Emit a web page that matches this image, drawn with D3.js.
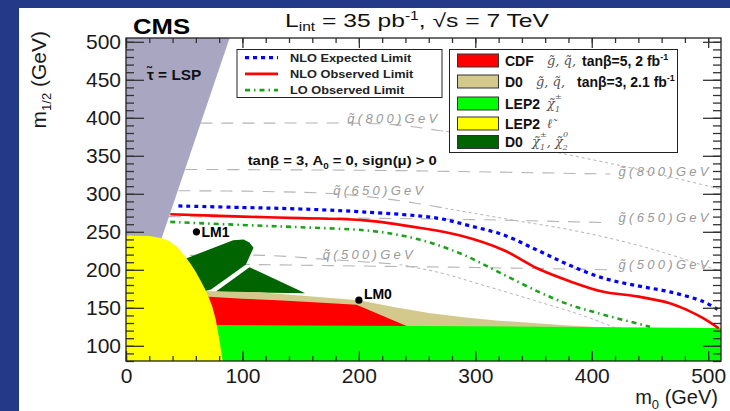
<!DOCTYPE html>
<html>
<head>
<meta charset="utf-8">
<script src="https://cdn.jsdelivr.net/npm/d3@7"></script>
<style>
  body { margin: 0; background: #fff; }
  svg { display: block; font-family: "Liberation Sans", Arial, sans-serif; }
</style>
</head>
<body>
<svg id="chart" width="730" height="411"></svg>
<script>
// all values, m0 and m1/2 in GeV
const xTicks = [0, 100, 200, 300, 400, 500];
const yTicks = [100, 150, 200, 250, 300, 350, 400, 450, 500];

// limit curves
const nloExpected = [[45,284],[100,282],[150,280],[205,276],[267,268],[295,258],[324,246],[353,226],[381,206],[410,189],[439,179],[467,171],[496,158],[508,148]];
const nloObserved = [[38,273],[100,270],[150,268],[205,265],[253,255],[287,245],[324,226],[353,202],[381,185],[410,171],[439,165],[467,156],[482,147],[496,136],[509,123]];
const loObserved = [[38,263],[100,259],[150,256],[205,252],[234,246],[263,235],[291,219],[320,197],[353,172],[381,154],[410,141],[450,125]];

// excluded regions
const lspRegion = [[0,505],[89,505],[28.5,232],[0,232]];
const lep2Slepton = [[0,245],[20,244.5],[30,242],[37,238],[44,230],[50,219],[55,209],[60,197],[64,186],[68,174],[71,164],[74,152],[77,135],[79,118],[81,100],[83,80],[0,80]];
const lep2Chargino = [[75,127.5],[250,126],[511,123.5],[511,80],[75,80]];
const cdfRegion = [[68,165],[100,162],[130,160],[165,157],[198,154],[241,126],[241,110],[68,110]];
const d0Region = [[68,172],[115,170.5],[160,165],[200,160],[230,151],[260,143],[290,137.5],[320,133],[350,130],[377,127],[400,125],[425,124],[425,110],[68,110]];
const d0ChiUpper = [[50,214],[92,239],[101,240],[106,236],[109.5,229],[103,207],[73,174],[68,172]];
const d0ChiLower = [[106,203.5],[154,169],[77,171]];

// iso-mass contours
const squark800 = [[64,393],[120,393],[190,393],[230,391],[270,383],[304,376],[340,364],[381,351],[440,332],[511,306]];
const squark650 = [[45,304],[120,303],[180,300],[230,292],[274,281],[330,266],[390,250],[450,228],[511,198]];
const squark500 = [[55,219],[120,219],[170,214],[200,211],[235,207],[270,196],[304,181],[350,160],[390,141],[420,124]];
const gluino800 = [[51,332],[200,331],[300,329],[416,326]];
const gluino650 = [[37,270],[200,268],[300,266],[416,262]];
const gluino500 = [[60,208],[200,205],[300,203],[416,200]];
const squarkLabels = [["q\u0303(800)GeV", 190, 393], ["q\u0303(650)GeV", 178, 299], ["q\u0303(500)GeV", 169, 214]];
const gluinoLabels = [["g\u0303(800)GeV", 423, 323.5], ["g\u0303(650)GeV", 423, 263], ["g\u0303(500)GeV", 423, 201]];

// benchmark points
const benchmarks = [["LM1", 60.5, 250], ["LM0", 200, 160]];

const svg = d3.select("#chart");
const W = 730, H = 411;

// the reference text is a little wider than the fonts here, stretch it
function stretch(sel, factor) {
    sel.each(function () {
        let len = this.getComputedTextLength();
        d3.select(this).attr("textLength", len * factor).attr("lengthAdjust", "spacingAndGlyphs");
    });
    return sel;
}

// slide background
svg.append("rect").attr("width", W).attr("height", H).attr("fill", "#243a88");
svg.append("rect").attr("x", 19).attr("y", 8).attr("width", W - 19).attr("height", H - 8).attr("fill", "#fff");

const x = d3.scaleLinear().domain([0, 511]).range([126, 721]);
const y = d3.scaleLinear().domain([80, 505]).range([361, 38]);

svg.append("clipPath").attr("id", "plotArea").append("rect")
    .attr("x", x(0)).attr("y", y(505)).attr("width", x(511) - x(0)).attr("height", y(80) - y(505));
const plot = svg.append("g").attr("clip-path", "url(#plotArea)");

const poly = d3.line().x(d => x(d[0])).y(d => y(d[1]));
const smooth = d3.line().x(d => x(d[0])).y(d => y(d[1])).curve(d3.curveCatmullRom.alpha(0.5));

function region(pts, fill) {
    plot.append("path").attr("d", poly(pts) + "Z").attr("fill", fill);
}

region(lspRegion, "#a9a6c2");

// iso-mass lines: flat part long-dashed, sloping part finely dashed
function contour(pts, splitAt) {
    let flat = pts.filter(d => d[0] <= splitAt);
    let slope = pts.filter(d => d[0] >= splitAt);
    plot.append("path").attr("d", smooth(flat)).attr("fill", "none")
        .attr("stroke", "#b4b4b4").attr("stroke-width", 1.1).attr("stroke-dasharray", "12 9");
    if (slope.length > 1) {
        plot.append("path").attr("d", smooth(slope)).attr("fill", "none")
            .attr("stroke", "#b4b4b4").attr("stroke-width", 1).attr("stroke-dasharray", "3 3");
    }
}
contour(squark800, 270);
contour(squark650, 274);
contour(squark500, 235);
contour(gluino800, 999);
contour(gluino650, 999);
contour(gluino500, 999);

function isoLabel(d) {
    plot.append("text").attr("x", x(d[1])).attr("y", y(d[2]))
        .attr("font-size", 13).attr("font-style", "italic").attr("fill", "#9a9a9a")
        .attr("textLength", 90).attr("lengthAdjust", "spacing")
        .text(d[0]);
}
squarkLabels.forEach(isoLabel);
gluinoLabels.forEach(isoLabel);

region(d0ChiUpper, "#006400");
region(d0ChiLower, "#006400");
region(d0Region, "#d4c98c");
region(cdfRegion, "#ff0000");
region(lep2Chargino, "#00ff00");
region(lep2Slepton, "#ffff00");

// limit curves
plot.append("path").attr("d", smooth(loObserved)).attr("fill", "none")
    .attr("stroke", "#1aa31a").attr("stroke-width", 2.6).attr("stroke-dasharray", "5 4 1.5 4");
plot.append("path").attr("d", smooth(nloObserved)).attr("fill", "none")
    .attr("stroke", "#ff0000").attr("stroke-width", 2.6);
plot.append("path").attr("d", smooth(nloExpected)).attr("fill", "none")
    .attr("stroke", "#0000ff").attr("stroke-width", 3.2).attr("stroke-dasharray", "4 4");

// benchmark points
benchmarks.forEach((d, i) => {
    plot.append("circle").attr("cx", x(d[1])).attr("cy", y(d[2])).attr("r", 3.6).attr("fill", "#000");
    plot.append("text").attr("x", x(d[1]) + 5).attr("y", y(d[2]) + (i === 0 ? 5 : -1))
        .attr("font-size", 14).attr("font-weight", "bold").attr("fill", "#000").text(d[0]);
});

// annotations
const tauText = plot.append("text").attr("x", x(18)).attr("y", y(449.5))
    .attr("font-size", 14).attr("font-weight", "bold").attr("fill", "#111")
    .text("\u03c4\u0303 = LSP");
stretch(tauText, 1.1);

const parText = svg.append("text").attr("x", x(104.5)).attr("y", y(338))
    .attr("font-size", 13.5).attr("font-weight", "bold").attr("fill", "#111");
parText.append("tspan").text("tan\u03b2 = 3, A");
parText.append("tspan").attr("font-size", 9).attr("dy", 4).text("0");
parText.append("tspan").attr("dy", -4).text(" = 0, sign(\u03bc) > 0");
stretch(parText, 1.1);

// legend with the limit lines
const lineLegend = [
    ["NLO Expected Limit", "#0000ff", 3.2, "4 4"],
    ["NLO Observed Limit", "#ff0000", 2.6, null],
    ["LO Observed Limit", "#1aa31a", 2.6, "5 4 1.5 4"]
];
svg.append("rect").attr("x", 237).attr("y", 49.5).attr("width", 205).attr("height", 48)
    .attr("fill", "#fff").attr("stroke", "#222").attr("stroke-width", 1);
lineLegend.forEach((d, i) => {
    let yy = 57.7 + i * 16.2;
    let ln = svg.append("line").attr("x1", 245).attr("x2", 278).attr("y1", yy).attr("y2", yy)
        .attr("stroke", d[1]).attr("stroke-width", d[2]);
    if (d[3]) ln.attr("stroke-dasharray", d[3]);
    let t = svg.append("text").attr("x", 290).attr("y", yy + 4).attr("font-size", 11).attr("font-weight", "bold")
        .attr("fill", "#222").text(d[0]);
    stretch(t, 1.16);
});

// legend with the excluded regions
const regionLegend = [
    {fill: "#ff0000", label: "CDF", symX: 547, sym: [["g\u0303, q\u0303,"]], restX: 582, rest: "tan\u03b2=5, 2 fb", sup: "-1"},
    {fill: "#d4c98c", label: "D0", symX: 536, sym: [["g\u0303, q\u0303,"]], restX: 577, rest: "tan\u03b2=3, 2.1 fb", sup: "-1"},
    {fill: "#00ff00", label: "LEP2", symX: 547, sym: [["\u03c7\u0303"], ["1", "sub"], ["\u00b1", "sup"]]},
    {fill: "#ffff00", label: "LEP2", symX: 547, sym: [["\u2113\u0303"]]},
    {fill: "#006400", label: "D0", symX: 532, sym: [["\u03c7\u0303"], ["1", "sub"], ["\u00b1", "sup"], [", \u03c7\u0303"], ["2", "sub"], ["0", "sup"]]}
];
const rowY = [60.5, 81.5, 103.5, 123.5, 142];
svg.append("rect").attr("x", 449.5).attr("y", 49.5).attr("width", 228).attr("height", 103)
    .attr("fill", "#fff").attr("stroke", "#222").attr("stroke-width", 1);
regionLegend.forEach((d, i) => {
    let yy = rowY[i];
    svg.append("rect").attr("x", 457.5).attr("y", yy - 6.5).attr("width", 41).attr("height", 13)
        .attr("fill", d.fill).attr("stroke", "#333").attr("stroke-width", 1);
    svg.append("text").attr("x", 505).attr("y", yy + 5).attr("font-size", 14).attr("font-weight", "bold")
        .attr("fill", "#111").text(d.label);
    let s = svg.append("text").attr("x", d.symX).attr("y", yy + 4).attr("font-size", 13)
        .attr("font-family", "DejaVu Serif").attr("font-style", "italic").attr("fill", "#555");
    let shift = 0;
    d.sym.forEach(p => {
        let t = s.append("tspan").text(p[0]);
        if (p[1] === "sub") { t.attr("font-size", 8).attr("dy", 4 - shift); shift = 4; }
        else if (p[1] === "sup") { t.attr("font-size", 8).attr("dx", -5).attr("dy", -9 - shift + 4 - 4); shift = -9; }
        else { t.attr("dy", -shift); shift = 0; }
    });
    if (d.rest) {
        let r = svg.append("text").attr("x", d.restX).attr("y", yy + 5).attr("font-size", 14)
            .attr("font-weight", "bold").attr("fill", "#111");
        r.append("tspan").text(d.rest);
        r.append("tspan").attr("font-size", 9).attr("dy", -6).text(d.sup);
    }
});

// frame and ticks
function styleAxis(g) {
    g.select(".domain").remove();
    g.selectAll("line").attr("stroke", "#333").attr("stroke-width", 1.3);
    g.selectAll("text").attr("font-size", 21).attr("fill", "#1a1a1a")
        .attr("font-family", "\"Liberation Sans\", Arial, sans-serif");
}
const xMinor = d3.range(0, 511, 20);
const yMinor = d3.range(80, 506, 10);

svg.append("g").attr("transform", `translate(0,${y(80)})`)
    .call(d3.axisBottom(x).tickValues(xTicks).tickSize(-10).tickPadding(7).tickFormat(d3.format("d"))).call(styleAxis);
svg.append("g").attr("transform", `translate(0,${y(80)})`)
    .call(d3.axisBottom(x).tickValues(xMinor).tickSize(-5).tickFormat("")).call(styleAxis);
svg.append("g").attr("transform", `translate(0,${y(505)})`)
    .call(d3.axisTop(x).tickValues(xTicks).tickSize(-10).tickFormat("")).call(styleAxis);
svg.append("g").attr("transform", `translate(0,${y(505)})`)
    .call(d3.axisTop(x).tickValues(xMinor).tickSize(-5).tickFormat("")).call(styleAxis);
svg.append("g").attr("transform", `translate(${x(0)},0)`)
    .call(d3.axisLeft(y).tickValues(yTicks).tickSize(-18).tickPadding(5).tickFormat(d3.format("d"))).call(styleAxis);
svg.append("g").attr("transform", `translate(${x(0)},0)`)
    .call(d3.axisLeft(y).tickValues(yMinor).tickSize(-8).tickFormat("")).call(styleAxis);
svg.append("g").attr("transform", `translate(${x(511)},0)`)
    .call(d3.axisRight(y).tickValues(yTicks).tickSize(-18).tickFormat("")).call(styleAxis);
svg.append("g").attr("transform", `translate(${x(511)},0)`)
    .call(d3.axisRight(y).tickValues(yMinor).tickSize(-8).tickFormat("")).call(styleAxis);

svg.append("rect").attr("x", x(0)).attr("y", y(505)).attr("width", x(511) - x(0)).attr("height", y(80) - y(505))
    .attr("fill", "none").attr("stroke", "#222").attr("stroke-width", 1.3);

// axis titles
const xTitle = svg.append("text").attr("x", 718).attr("y", 404).attr("text-anchor", "end")
    .attr("font-size", 20).attr("fill", "#1a1a1a");
xTitle.append("tspan").text("m");
xTitle.append("tspan").attr("font-size", 13).attr("dy", 5).text("0");
xTitle.append("tspan").attr("dy", -5).text(" (GeV)");

const yTitle = svg.append("text").attr("transform", "translate(46,31) rotate(-90)").attr("text-anchor", "end")
    .attr("font-size", 21).attr("fill", "#1a1a1a");
yTitle.append("tspan").text("m");
yTitle.append("tspan").attr("font-size", 13).attr("dy", 5).text("1/2");
yTitle.append("tspan").attr("dy", -5).text(" (GeV)");

// header
svg.append("text").attr("x", 133).attr("y", 33.5).attr("font-size", 22).attr("font-weight", "bold")
    .attr("fill", "#000").attr("textLength", 57).attr("lengthAdjust", "spacingAndGlyphs").text("CMS");

const title = svg.append("text").attr("x", 285).attr("y", 27).attr("font-size", 19).attr("fill", "#111");
title.append("tspan").text("L");
title.append("tspan").attr("font-size", 12).attr("dy", 4).text("int");
title.append("tspan").attr("dy", -4).text(" = 35 pb");
title.append("tspan").attr("font-size", 12).attr("dy", -7).text("-1");
title.append("tspan").attr("dy", 7).text(", \u221as = 7 TeV");
title.attr("textLength", 264).attr("lengthAdjust", "spacingAndGlyphs");
</script>
</body>
</html>
